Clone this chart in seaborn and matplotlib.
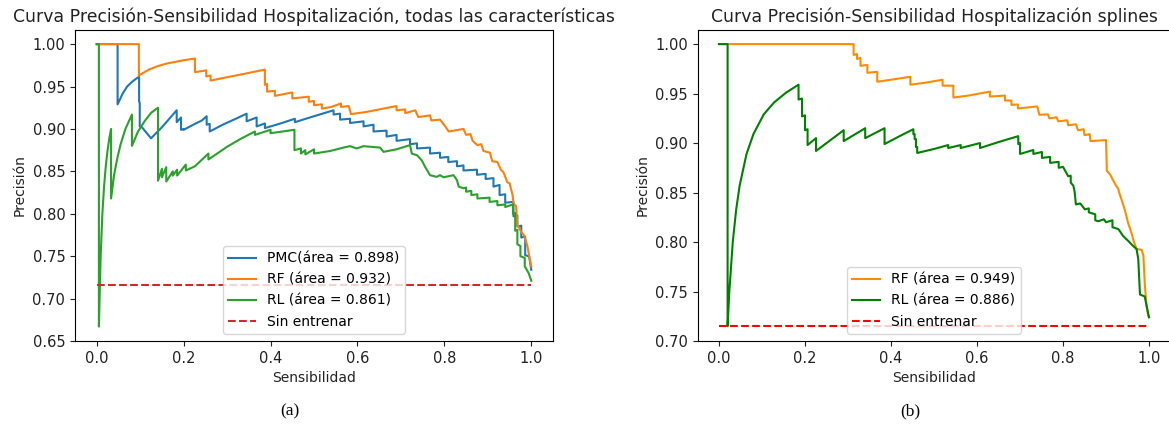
import matplotlib
matplotlib.use("Agg")
import matplotlib.pyplot as plt
import seaborn as sns

# ---------------- Data ----------------
# Panel (a): todas las características
pmc_a_recall = [0.000, 0.048, 0.048, 0.060, 0.070, 0.080, 0.090, 0.0975, 0.0975, 0.099, 0.099,
                0.104, 0.125, 0.150, 0.184, 0.184, 0.194, 0.194, 0.200, 0.200, 0.226, 0.242, 0.253,
                0.253, 0.260, 0.260, 0.290, 0.320, 0.345, 0.345, 0.368, 0.368, 0.387, 0.387,
                0.420, 0.456, 0.456, 0.500, 0.545, 0.545, 0.560, 0.560, 0.583, 0.583, 0.614,
                0.614, 0.637, 0.637, 0.667, 0.667, 0.690, 0.690, 0.721, 0.721, 0.737, 0.737,
                0.767, 0.767, 0.790, 0.790, 0.809, 0.809, 0.829, 0.829, 0.844, 0.844, 0.875,
                0.875, 0.895, 0.895, 0.913, 0.913, 0.927, 0.927, 0.940, 0.940, 0.959, 0.959,
                0.968, 0.968, 0.977, 0.977, 0.986, 0.986, 0.995, 1.000]
pmc_a_prec = [1.000, 1.000, 0.929, 0.942, 0.950, 0.955, 0.959, 0.9615, 0.932, 0.931, 0.903,
              0.902, 0.889, 0.902, 0.922, 0.908, 0.9135, 0.899, 0.900, 0.899, 0.906, 0.910, 0.915,
              0.905, 0.906, 0.897, 0.905, 0.912, 0.918, 0.909, 0.9135, 0.903, 0.9065, 0.901,
              0.906, 0.912, 0.908, 0.915, 0.922, 0.917, 0.918, 0.911, 0.912, 0.907, 0.909,
              0.903, 0.905, 0.897, 0.898, 0.891, 0.893, 0.886, 0.888, 0.882, 0.883, 0.877,
              0.878, 0.871, 0.872, 0.866, 0.867, 0.861, 0.862, 0.856, 0.857, 0.851, 0.852,
              0.846, 0.847, 0.841, 0.842, 0.832, 0.834, 0.822, 0.823, 0.813, 0.814, 0.797,
              0.798, 0.785, 0.786, 0.772, 0.773, 0.751, 0.750, 0.734]

rf_a_recall = [0.000, 0.097, 0.097, 0.120, 0.140, 0.160, 0.180, 0.200, 0.226, 0.226, 0.252,
               0.252, 0.262, 0.262, 0.300, 0.340, 0.387, 0.387, 0.392, 0.392, 0.410, 0.410,
               0.450, 0.450, 0.488, 0.488, 0.500, 0.500, 0.518, 0.518, 0.540, 0.562, 0.562,
               0.580, 0.585, 0.620, 0.660, 0.690, 0.690, 0.710, 0.710, 0.733, 0.740, 0.767,
               0.770, 0.790, 0.802, 0.810, 0.844, 0.850, 0.860, 0.865, 0.876, 0.885, 0.890,
               0.905, 0.910, 0.922, 0.930, 0.936, 0.945, 0.950, 0.957, 0.959, 0.965, 0.968,
               0.975, 0.984, 0.991, 0.996, 1.000]
rf_a_prec = [1.000, 1.000, 0.963, 0.970, 0.974, 0.977, 0.979, 0.981, 0.983, 0.967, 0.969,
             0.962, 0.963, 0.957, 0.961, 0.965, 0.970, 0.952, 0.953, 0.944, 0.945, 0.939,
             0.943, 0.936, 0.938, 0.932, 0.933, 0.928, 0.929, 0.924, 0.926, 0.930, 0.926,
             0.927, 0.9175, 0.920, 0.924, 0.927, 0.922, 0.923, 0.9186, 0.922, 0.914, 0.916,
             0.910, 0.911, 0.903, 0.897, 0.900, 0.893, 0.894, 0.886, 0.881, 0.882, 0.874,
             0.872, 0.862, 0.861, 0.852, 0.849, 0.837, 0.836, 0.822, 0.812, 0.809, 0.787,
             0.780, 0.774, 0.762, 0.748, 0.738]

rl_a_recall = [0.000, 0.005, 0.005, 0.009, 0.013, 0.017, 0.021, 0.025, 0.029, 0.033, 0.033,
               0.040, 0.048, 0.055, 0.066, 0.081, 0.081, 0.095, 0.110, 0.125, 0.141, 0.141,
               0.150, 0.150, 0.160, 0.160, 0.175, 0.175, 0.185, 0.185, 0.205, 0.205, 0.226,
               0.257, 0.257, 0.300, 0.330, 0.364, 0.364, 0.400, 0.400, 0.455, 0.455, 0.470,
               0.470, 0.480, 0.480, 0.500, 0.500, 0.537, 0.5675, 0.583, 0.598, 0.614, 0.652,
               0.660, 0.690, 0.721, 0.725, 0.737, 0.748, 0.756, 0.767, 0.782, 0.790, 0.798,
               0.821, 0.829, 0.833, 0.844, 0.850, 0.850, 0.862, 0.862, 0.876, 0.876, 0.904,
               0.904, 0.922, 0.922, 0.940, 0.940, 0.958, 0.958, 0.963, 0.963, 0.968, 0.968,
               0.975, 0.975, 0.985, 0.985, 0.994, 1.000]
rl_a_prec = [1.000, 1.000, 0.667, 0.750, 0.800, 0.833, 0.857, 0.875, 0.889, 0.900, 0.818,
             0.846, 0.867, 0.882, 0.900, 0.917, 0.880, 0.897, 0.909, 0.919, 0.925, 0.839,
             0.853, 0.843, 0.855, 0.838, 0.850, 0.845, 0.852, 0.845, 0.858, 0.851, 0.856,
             0.871, 0.864, 0.879, 0.888, 0.897, 0.893, 0.899, 0.895, 0.899, 0.875, 0.877,
             0.871, 0.875, 0.870, 0.876, 0.871, 0.874, 0.878, 0.8797, 0.877, 0.8797, 0.878,
             0.873, 0.876, 0.881, 0.871, 0.869, 0.863, 0.855, 0.8455, 0.8435, 0.8455, 0.843,
             0.8455, 0.8396, 0.832, 0.830, 0.831, 0.826, 0.827, 0.822, 0.823, 0.818, 0.819,
             0.814, 0.815, 0.810, 0.811, 0.808, 0.811, 0.800, 0.801, 0.780, 0.781, 0.764,
             0.762, 0.750, 0.748, 0.738, 0.730, 0.721]

base_a = 0.716

# Panel (b): splines
rf_b_recall = [0.000, 0.313, 0.313, 0.321, 0.321, 0.329, 0.329, 0.345, 0.345, 0.368, 0.368,
               0.400, 0.445, 0.445, 0.480, 0.520, 0.520, 0.545, 0.545, 0.580, 0.630, 0.630,
               0.665, 0.665, 0.680, 0.680, 0.695, 0.695, 0.740, 0.745, 0.765, 0.768, 0.785,
               0.789, 0.810, 0.812, 0.830, 0.835, 0.848, 0.850, 0.862, 0.864, 0.900, 0.902,
               0.910, 0.917, 0.922, 0.928, 0.932, 0.936, 0.944, 0.951, 0.960, 0.965, 0.971,
               0.983, 0.987, 0.990, 0.994, 0.998, 1.000]
rf_b_prec = [1.000, 1.000, 0.989, 0.990, 0.985, 0.986, 0.978, 0.979, 0.971, 0.972, 0.962,
             0.964, 0.967, 0.959, 0.961, 0.964, 0.958, 0.958, 0.946, 0.948, 0.952, 0.947,
             0.948, 0.943, 0.943, 0.9386, 0.939, 0.935, 0.937, 0.9286, 0.929, 0.925, 0.926,
             0.922, 0.923, 0.918, 0.919, 0.913, 0.914, 0.908, 0.909, 0.902, 0.903, 0.872,
             0.868, 0.862, 0.858, 0.854, 0.848, 0.843, 0.832, 0.820, 0.808, 0.800, 0.793,
             0.792, 0.786, 0.759, 0.736, 0.726, 0.724]

rl_b_recall = [0.000, 0.020, 0.020, 0.024, 0.032, 0.040, 0.048, 0.064, 0.080, 0.104, 0.128,
               0.156, 0.185, 0.185, 0.193, 0.193, 0.200, 0.200, 0.206, 0.206, 0.2256, 0.2256,
               0.250, 0.290, 0.290, 0.340, 0.340, 0.385, 0.385, 0.420, 0.452, 0.452, 0.455,
               0.455, 0.458, 0.458, 0.461, 0.461, 0.500, 0.533, 0.533, 0.562, 0.562, 0.607,
               0.607, 0.650, 0.696, 0.696, 0.700, 0.700, 0.731, 0.731, 0.751, 0.751, 0.770,
               0.770, 0.790, 0.790, 0.800, 0.812, 0.818, 0.818, 0.824, 0.827, 0.830, 0.840,
               0.851, 0.860, 0.860, 0.875, 0.875, 0.882, 0.895, 0.900, 0.915, 0.915, 0.929,
               0.940, 0.952, 0.963, 0.971, 0.975, 0.979, 0.990, 0.998, 1.000]
rl_b_prec = [1.000, 1.000, 0.715, 0.750, 0.800, 0.833, 0.857, 0.889, 0.909, 0.929, 0.941,
             0.951, 0.959, 0.944, 0.945, 0.927, 0.928, 0.913, 0.914, 0.898, 0.905, 0.892,
             0.900, 0.913, 0.902, 0.915, 0.905, 0.915, 0.899, 0.907, 0.914, 0.909, 0.909,
             0.904, 0.904, 0.896, 0.896, 0.890, 0.894, 0.898, 0.895, 0.898, 0.895, 0.900,
             0.895, 0.901, 0.907, 0.899, 0.900, 0.889, 0.893, 0.889, 0.891, 0.885, 0.886,
             0.880, 0.881, 0.875, 0.876, 0.8665, 0.867, 0.860, 0.857, 0.851, 0.838, 0.839,
             0.833, 0.834, 0.830, 0.828, 0.822, 0.821, 0.823, 0.820, 0.822, 0.815, 0.813,
             0.806, 0.801, 0.796, 0.793, 0.783, 0.747, 0.745, 0.728, 0.724]

base_b = 0.715

base_recall = [0.0, 1.0]

labels_a = ["PMC(área = 0.898)", "RF (área = 0.932)", "RL (área = 0.861)", "Sin entrenar"]
labels_b = ["RF (área = 0.949)", "RL (área = 0.886)", "Sin entrenar"]
titles = ["Curva Precisión-Sensibilidad Hospitalización, todas las características",
          "Curva Precisión-Sensibilidad Hospitalización splines"]
xlabel = "Sensibilidad"
ylabel = "Precisión"
captions = ["(a)", "(b)"]

# ---------------- Figure ----------------
plt.rcParams["font.family"] = ["DejaVu Sans"]
W, H = 1169, 425
fig = plt.figure(figsize=(W / 100, H / 100), dpi=100)
fig.patch.set_facecolor("white")

ax1 = fig.add_axes([75 / W, 1 - 341 / H, 478 / W, 311 / H])
ax2 = fig.add_axes([697.5 / W, 1 - 341 / H, 473 / W, 311 / H])

lw = 1.5
kw = dict(sort=False, estimator=None, linewidth=lw)

sns.lineplot(x=pmc_a_recall, y=pmc_a_prec, ax=ax1, color="tab:blue", label=labels_a[0], **kw)
sns.lineplot(x=rf_a_recall, y=rf_a_prec, ax=ax1, color="tab:orange", label=labels_a[1], **kw)
sns.lineplot(x=rl_a_recall, y=rl_a_prec, ax=ax1, color="tab:green", label=labels_a[2], **kw)
sns.lineplot(x=base_recall, y=[base_a, base_a], ax=ax1, color="tab:red", linestyle="--",
             label=labels_a[3], **kw)

sns.lineplot(x=rf_b_recall, y=rf_b_prec, ax=ax2, color="darkorange", label=labels_b[0], **kw)
sns.lineplot(x=rl_b_recall, y=rl_b_prec, ax=ax2, color="green", label=labels_b[1], **kw)
sns.lineplot(x=base_recall, y=[base_b, base_b], ax=ax2, color="red", linestyle="--",
             label=labels_b[2], **kw)

for ax, title, cap, cx in [(ax1, titles[0], captions[0], 290), (ax2, titles[1], captions[1], 910)]:
    ax.set_title(title, fontsize=12.4, color="#222222")
    ax.set_xlabel(xlabel, fontsize=10, color="#222222")
    ax.set_ylabel(ylabel, fontsize=10, color="#222222")
    ax.tick_params(labelsize=10.5, colors="#222222")
    ax.set_xticks([0.0, 0.2, 0.4, 0.6, 0.8, 1.0])
    ax.legend(loc="lower center", fontsize=10)
    fig.text(cx / W, 1 - 411 / H, cap, ha="center", va="center",
             family="Liberation Serif", fontsize=12.5)

ax1.set_yticks([0.65, 0.70, 0.75, 0.80, 0.85, 0.90, 0.95, 1.00])
ax2.set_yticks([0.70, 0.75, 0.80, 0.85, 0.90, 0.95, 1.00])

fig.savefig("out.png", dpi=100)
